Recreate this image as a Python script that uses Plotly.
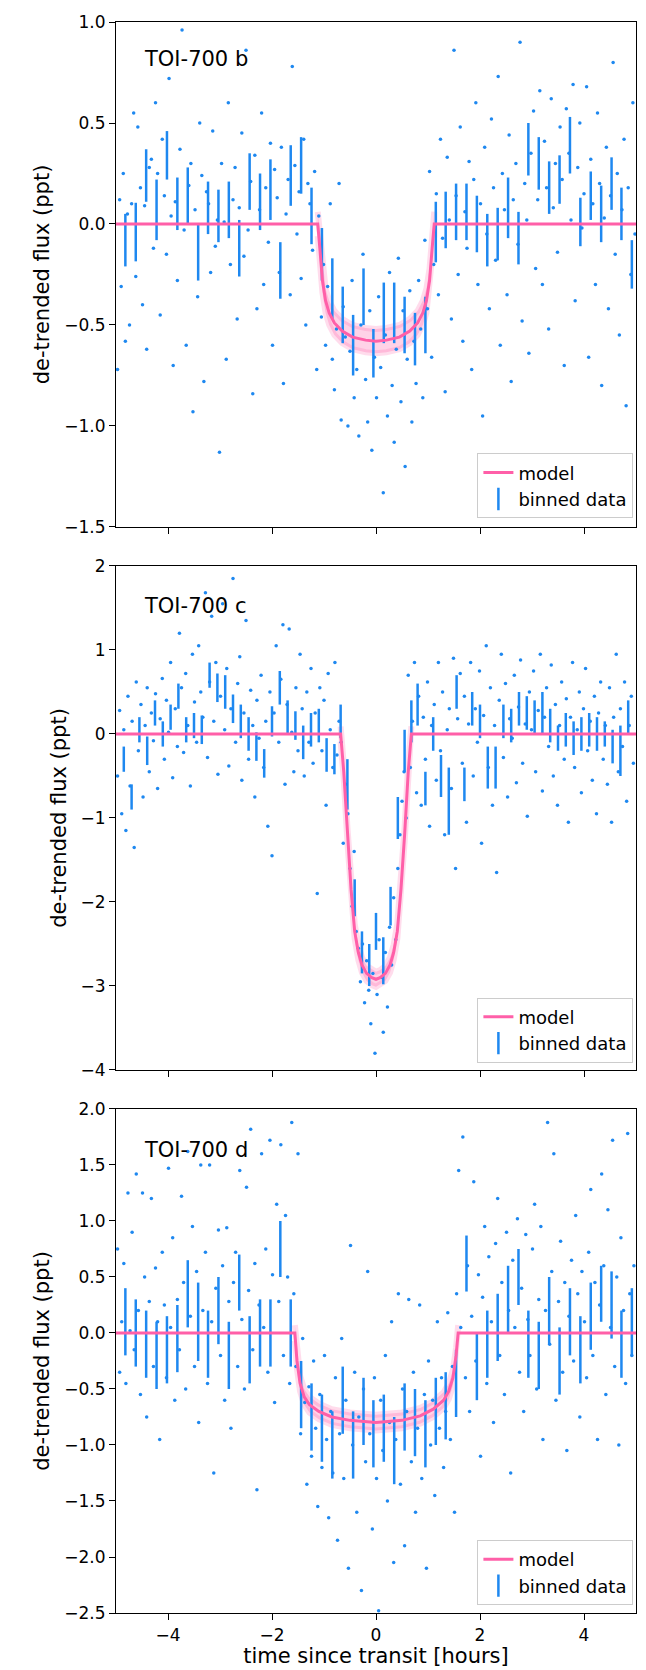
"""
TOI-700 b, c, d transit light curves (three stacked panels)
"""
import plotly.graph_objects as go

# ---- data ----
panel_names = ["TOI-700 b", "TOI-700 c", "TOI-700 d"]

# raw points (hours, ppt)
b_points = [(-4.97,-0.72),(-4.93,0.12),(-4.9,-0.31),(-4.86,0.25),(-4.82,-0.58),(-4.78,0.05),(-4.74,-0.5),(-4.7,0.1),
    (-4.66,0.55),(-4.62,-0.26),(-4.58,0.48),(-4.53,0.18),(-4.49,-0.4),(-4.45,0.09),(-4.41,-0.62),(-4.36,0.28),
    (-4.32,0.32),(-4.28,-0.12),(-4.24,0.6),(-4.2,0.25),(-4.15,-0.45),(-4.11,0.42),(-4.07,0.14),(-4.03,-0.15),
    (-3.98,0.72),(-3.94,0.04),(-3.9,-0.7),(-3.86,0.11),(-3.82,-0.28),(-3.77,0.37),(-3.73,0.96),(-3.69,-0.03),
    (-3.65,-0.6),(-3.6,0.19),(-3.56,0.3),(-3.52,-0.93),(-3.48,0.07),(-3.43,-0.36),(-3.39,0.5),(-3.35,0.24),
    (-3.31,-0.78),(-3.26,0.16),(-3.22,0.1),(-3.18,-0.24),(-3.14,0.46),(-3.09,-0.11),(-3.05,0.02),(-3.01,-1.13),
    (-2.97,0.3),(-2.92,0.01),(-2.88,-0.67),(-2.84,0.6),(-2.8,-0.2),(-2.75,0.12),(-2.71,0.28),(-2.67,-0.47),
    (-2.63,0.08),(-2.58,0.45),(-2.54,-0.16),(-2.5,0.86),(-2.46,-0.03),(-2.41,0.21),(-2.37,-0.84),(-2.33,0.34),
    (-2.29,-0.42),(-2.24,0.07),(-2.2,0.55),(-2.16,-0.3),(-2.12,0.18),(-2.07,-0.09),(-2.03,0.4),(-1.99,-0.6),
    (-1.95,0.27),(-1.9,0.13),(-1.86,-0.24),(-1.82,0.38),(-1.78,-0.79),(-1.73,0.05),(-1.69,0.22),(-1.65,-0.35),
    (-1.61,0.78),(-1.56,0.29),(-1.52,-0.05),(-1.48,0.16),(-1.44,-0.27),(-1.39,0.42),(-1.35,-0.5),(-1.31,0.2),
    (-1.27,0.1),(-1.22,-0.13),(-1.18,0.26),(-1.14,-0.72),(-1.1,0.04),(-1.05,-0.46),(-1.01,-0.2),(-0.97,-0.6),
    (-0.93,-0.31),(-0.88,0.1),(-0.84,-0.67),(-0.8,-0.82),(-0.76,-0.52),(-0.71,0.2),(-0.67,-0.97),(-0.63,-0.41),
    (-0.59,-0.56),(-0.54,-1.0),(-0.5,-0.63),(-0.46,-0.28),(-0.42,-0.86),(-0.37,-0.72),(-0.33,-1.05),(-0.29,-0.5),
    (-0.25,-0.15),(-0.2,-0.77),(-0.16,-0.98),(-0.12,-0.43),(-0.08,-1.12),(-0.03,-0.66),(0.01,-0.86),(0.05,-0.36),
    (0.09,-0.71),(0.14,-1.33),(0.18,-0.55),(0.22,-0.95),(0.26,-0.24),(0.31,-0.8),(0.35,-1.08),(0.39,-0.62),
    (0.43,-0.17),(0.48,-0.88),(0.52,-0.43),(0.56,-1.2),(0.6,-0.67),(0.65,-0.33),(0.69,-0.98),(0.73,-0.58),
    (0.77,-0.79),(0.82,-0.28),(0.86,-0.52),(0.9,-0.86),(0.94,-0.08),(0.99,-0.42),(1.03,0.26),(1.07,-0.66),
    (1.11,-0.2),(1.16,0.15),(1.2,-0.35),(1.24,0.42),(1.28,-0.07),(1.33,-0.83),(1.37,0.33),(1.41,0.02),
    (1.45,-0.47),(1.5,0.86),(1.54,0.14),(1.58,-0.25),(1.62,0.48),(1.67,-0.58),(1.71,0.06),(1.75,-0.12),
    (1.79,0.31),(1.84,-0.72),(1.88,0.22),(1.92,0.6),(1.96,-0.3),(2.01,0.1),(2.05,-0.95),(2.09,0.38),
    (2.13,-0.05),(2.18,-0.42),(2.22,0.52),(2.26,0.18),(2.3,-0.18),(2.35,0.73),(2.39,-0.6),(2.43,0.25),
    (2.47,0.07),(2.52,-0.35),(2.56,0.44),(2.6,-0.78),(2.64,0.12),(2.69,0.3),(2.73,-0.1),(2.77,0.9),
    (2.81,-0.48),(2.86,0.2),(2.9,0.02),(2.94,-0.64),(2.98,0.35),(3.03,0.56),(3.07,-0.22),(3.11,0.12),
    (3.15,0.66),(3.2,-0.3),(3.24,0.41),(3.28,0.18),(3.32,-0.52),(3.37,0.62),(3.41,0.08),(3.45,0.3),
    (3.49,-0.14),(3.54,0.48),(3.58,0.22),(3.62,-0.7),(3.66,0.57),(3.71,0.35),(3.75,0.02),(3.79,0.69),
    (3.83,-0.38),(3.88,0.28),(3.92,0.5),(3.96,-0.02),(4.0,0.15),(4.05,0.68),(4.09,-0.66),(4.13,0.32),
    (4.17,0.1),(4.22,-0.3),(4.26,0.55),(4.3,0.2),(4.34,-0.8),(4.39,0.03),(4.43,0.38),(4.47,-0.42),
    (4.51,0.14),(4.56,0.8),(4.6,-0.15),(4.64,0.25),(4.68,-0.55),(4.73,0.07),(4.77,0.42),(4.81,-0.9),
    (4.85,0.18),(4.9,-0.25),(4.94,0.6),(4.98,-0.05)]

c_points = [(-4.97,-0.5),(-4.93,0.28),(-4.89,-0.95),(-4.85,0.05),(-4.81,-1.15),(-4.77,0.45),(-4.73,-0.62),(-4.69,0.15),
    (-4.65,-1.35),(-4.61,0.62),(-4.57,-0.2),(-4.52,0.35),(-4.48,-0.75),(-4.44,0.1),(-4.4,0.55),(-4.36,-0.45),
    (-4.32,0.25),(-4.28,-0.08),(-4.24,0.48),(-4.2,-0.65),(-4.15,0.18),(-4.11,0.66),(-4.07,-0.3),(-4.03,0.4),
    (-3.99,0.02),(-3.95,0.85),(-3.91,-0.52),(-3.86,0.3),(-3.82,-0.15),(-3.78,1.2),(-3.74,0.55),(-3.7,-0.22),
    (-3.66,0.72),(-3.62,0.1),(-3.57,-0.62),(-3.53,0.95),(-3.49,0.38),(-3.45,-0.1),(-3.41,1.05),(-3.37,0.5),
    (-3.33,0.2),(-3.28,1.68),(-3.24,-0.28),(-3.2,0.62),(-3.16,1.4),(-3.12,0.15),(-3.08,0.85),(-3.04,-0.48),
    (-2.99,0.45),(-2.95,1.55),(-2.91,0.05),(-2.87,0.78),(-2.83,-0.38),(-2.79,0.3),(-2.75,1.85),(-2.7,-0.1),
    (-2.66,0.6),(-2.62,0.92),(-2.58,-0.55),(-2.54,0.25),(-2.5,1.35),(-2.45,-0.3),(-2.41,0.52),(-2.37,0.1),
    (-2.33,-0.75),(-2.29,0.4),(-2.25,-0.05),(-2.21,0.7),(-2.16,-0.4),(-2.12,0.15),(-2.08,-1.1),(-2.04,0.5),
    (-2.0,-1.45),(-1.96,0.25),(-1.92,1.05),(-1.87,-0.1),(-1.83,0.65),(-1.79,1.3),(-1.75,-0.6),(-1.71,0.35),
    (-1.67,1.25),(-1.62,0.02),(-1.58,-0.45),(-1.54,0.55),(-1.5,-0.2),(-1.46,0.95),(-1.42,0.3),(-1.38,-0.5),
    (-1.33,0.5),(-1.29,-0.1),(-1.25,0.78),(-1.21,-0.35),(-1.17,0.25),(-1.13,-1.9),(-1.08,0.55),(-1.04,-0.2),
    (-1.0,0.4),(-0.96,-0.85),(-0.92,0.72),(-0.88,0.05),(-0.83,-0.4),(-0.79,0.85),(-0.75,-0.25),(-0.71,0.15),
    (-0.67,-0.1),(-0.63,-1.3),(-0.58,-0.6),(-0.54,-0.95),(-0.5,-1.6),(-0.46,-2.05),(-0.42,-1.4),(-0.38,-2.35),
    (-0.34,-2.55),(-0.3,-2.95),(-0.26,-2.5),(-0.22,-3.2),(-0.18,-2.7),(-0.14,-3.05),(-0.1,-3.45),(-0.06,-2.85),
    (-0.02,-3.8),(0.02,-3.1),(0.06,-2.45),(0.1,-2.9),(0.14,-3.55),(0.18,-2.6),(0.22,-3.25),(0.26,-2.3),
    (0.3,-2.75),(0.34,-1.95),(0.38,-2.45),(0.42,-1.6),(0.46,-1.2),(0.5,-0.8),(0.54,-0.45),(0.58,-1.0),
    (0.62,0.7),(0.66,-0.4),(0.7,0.15),(0.74,0.85),(0.78,-0.7),(0.82,0.45),(0.87,-0.85),(0.91,0.2),
    (0.95,-0.3),(0.99,0.62),(1.03,-1.1),(1.07,0.1),(1.12,0.35),(1.16,-0.55),(1.2,0.85),(1.24,-0.2),
    (1.28,0.5),(1.32,-1.2),(1.37,0.05),(1.41,0.3),(1.45,-0.65),(1.49,0.9),(1.53,-1.6),(1.57,0.18),
    (1.62,0.72),(1.66,-0.35),(1.7,0.45),(1.74,-1.05),(1.78,0.12),(1.82,0.85),(1.87,-0.5),(1.91,0.3),
    (1.95,-0.1),(1.99,0.75),(2.03,-1.3),(2.07,0.22),(2.12,1.05),(2.16,-0.4),(2.2,0.55),(2.24,-0.85),
    (2.28,0.1),(2.32,-1.65),(2.37,0.4),(2.41,0.95),(2.45,-0.28),(2.49,0.6),(2.53,-0.75),(2.57,0.18),
    (2.62,-0.05),(2.66,0.7),(2.7,-0.58),(2.74,0.32),(2.78,0.88),(2.82,-0.35),(2.87,0.12),(2.91,-0.98),
    (2.95,0.5),(2.99,0.05),(3.03,0.75),(3.07,-0.45),(3.12,0.28),(3.16,0.95),(3.2,-0.68),(3.24,0.2),
    (3.28,0.55),(3.32,-0.15),(3.37,0.82),(3.41,-0.5),(3.45,0.35),(3.49,-0.85),(3.53,0.1),(3.57,0.62),
    (3.62,-0.3),(3.66,0.42),(3.7,-1.05),(3.74,0.2),(3.78,0.85),(3.82,-0.4),(3.87,0.05),(3.91,0.5),
    (3.95,-0.7),(3.99,0.3),(4.03,0.78),(4.07,-0.2),(4.12,0.15),(4.16,-0.55),(4.2,0.45),(4.24,-0.95),
    (4.28,0.25),(4.32,0.62),(4.37,-0.3),(4.41,0.1),(4.45,-0.6),(4.49,0.55),(4.53,-1.05),(4.57,0.2),
    (4.62,0.95),(4.66,-0.45),(4.7,0.3),(4.74,-0.15),(4.78,0.62),(4.82,-0.8),(4.87,0.1),(4.91,0.45),(4.95,-0.35)]

d_points = [(-4.97,0.75),(-4.93,-0.35),(-4.89,0.1),(-4.85,0.62),(-4.81,-0.45),(-4.77,1.25),(-4.73,0.02),(-4.69,0.9),
    (-4.65,-0.15),(-4.61,1.42),(-4.57,0.2),(-4.53,-0.55),(-4.49,1.25),(-4.45,0.5),(-4.41,-0.75),(-4.36,0.28),
    (-4.32,1.2),(-4.28,-0.3),(-4.24,0.58),(-4.2,0.1),(-4.16,-0.95),(-4.11,0.72),(-4.07,0.25),(-4.03,-0.4),
    (-3.99,1.47),(-3.95,0.05),(-3.91,0.85),(-3.87,-0.6),(-3.82,0.3),(-3.78,-0.15),(-3.74,1.22),(-3.7,0.45),
    (-3.66,-0.5),(-3.62,1.62),(-3.57,0.15),(-3.53,0.95),(-3.49,-0.3),(-3.45,0.55),(-3.41,-0.8),(-3.37,1.5),
    (-3.33,0.2),(-3.28,0.72),(-3.24,-0.45),(-3.2,1.5),(-3.16,0.1),(-3.12,-1.25),(-3.08,0.4),(-3.03,0.92),
    (-2.99,-0.2),(-2.95,0.6),(-2.91,-0.6),(-2.87,0.94),(-2.83,0.28),(-2.79,-0.85),(-2.74,0.45),(-2.7,0.72),
    (-2.66,-0.3),(-2.62,1.45),(-2.58,0.12),(-2.53,-0.5),(-2.49,1.3),(-2.45,0.38),(-2.41,1.82),(-2.37,-0.15),
    (-2.33,0.62),(-2.29,-1.4),(-2.25,0.25),(-2.2,1.6),(-2.16,0.05),(-2.12,0.75),(-2.08,-0.35),(-2.04,1.72),
    (-1.99,0.52),(-1.95,-0.62),(-1.91,1.15),(-1.87,0.28),(-1.83,1.68),(-1.78,-0.2),(-1.74,1.05),(-1.7,0.5),
    (-1.66,-0.45),(-1.62,1.88),(-1.58,0.35),(-1.54,-0.3),(-1.5,1.6),(-1.45,-0.9),(-1.41,-0.05),(-1.37,-0.62),
    (-1.33,-1.35),(-1.29,-0.48),(-1.24,-1.1),(-1.2,-0.25),(-1.16,-0.85),(-1.12,-1.55),(-1.08,-0.55),(-1.04,-1.2),
    (-0.99,-0.2),(-0.95,-0.95),(-0.91,-1.65),(-0.87,-0.7),(-0.83,-1.25),(-0.78,-0.4),(-0.74,-1.85),(-0.7,-0.9),
    (-0.66,-0.05),(-0.62,-1.3),(-0.58,-0.6),(-0.53,-2.1),(-0.49,0.78),(-0.45,-1.0),(-0.41,-0.35),(-0.37,-1.6),
    (-0.33,-0.75),(-0.28,-2.3),(-0.24,-0.5),(-0.2,-1.15),(-0.16,0.55),(-0.12,-0.9),(-0.07,-1.75),(-0.03,-0.4),
    (0.01,-1.3),(0.05,-2.48),(0.09,-0.6),(0.13,-1.05),(0.18,-0.2),(0.22,-1.5),(0.26,-0.8),(0.3,0.1),
    (0.34,-2.05),(0.38,-0.95),(0.43,0.35),(0.47,-1.35),(0.51,-0.5),(0.55,-1.9),(0.59,-0.7),(0.63,0.3),
    (0.68,-1.15),(0.72,-0.35),(0.76,-1.6),(0.8,-0.85),(0.84,0.25),(0.88,-1.3),(0.93,-0.55),(0.97,-2.1),
    (1.01,-0.25),(1.05,-1.0),(1.09,-0.6),(1.13,-1.45),(1.18,0.1),(1.22,-0.85),(1.26,-0.4),(1.3,-1.2),
    (1.34,-0.7),(1.38,0.18),(1.43,-0.95),(1.47,-0.3),(1.51,-1.6),(1.55,0.35),(1.59,1.45),(1.63,0.05),
    (1.67,1.75),(1.72,-0.4),(1.76,0.6),(1.8,-0.7),(1.84,0.15),(1.88,1.35),(1.92,-0.25),(1.97,0.52),
    (2.01,-1.1),(2.05,0.32),(2.09,0.95),(2.13,-0.45),(2.17,0.68),(2.22,0.1),(2.26,-0.8),(2.3,0.8),
    (2.34,1.2),(2.38,-0.2),(2.42,0.45),(2.47,-0.55),(2.51,0.9),(2.55,0.2),(2.59,-1.25),(2.63,0.65),
    (2.67,0.05),(2.72,1.02),(2.76,-0.35),(2.8,0.4),(2.84,-0.7),(2.88,0.88),(2.92,0.12),(2.96,-0.2),
    (3.01,0.75),(3.05,1.15),(3.09,-0.5),(3.13,0.3),(3.17,0.95),(3.21,-0.95),(3.26,0.2),(3.3,1.88),
    (3.34,-0.1),(3.38,0.55),(3.42,1.6),(3.46,-0.6),(3.51,0.28),(3.55,0.82),(3.59,-0.35),(3.63,0.45),
    (3.67,-1.05),(3.71,0.15),(3.76,0.65),(3.8,-0.25),(3.84,1.05),(3.88,0.35),(3.92,-0.75),(3.96,0.55),
    (4.01,0.1),(4.05,-0.4),(4.09,0.72),(4.13,1.28),(4.17,-0.2),(4.21,0.45),(4.26,-0.95),(4.3,0.25),
    (4.34,1.42),(4.38,0.6),(4.42,-0.55),(4.46,1.1),(4.51,0.05),(4.55,1.72),(4.59,-0.3),(4.63,0.5),
    (4.67,-1.0),(4.71,0.85),(4.76,0.2),(4.8,-0.45),(4.84,1.78),(4.88,0.35),(4.92,-0.2),(4.96,0.6)]

# binned data: time (hours), value (ppt), half error (ppt)
b_bin_t = [-4.82,-4.62,-4.42,-4.22,-4.02,-3.82,-3.62,-3.42,-3.23,-3.03,-2.83,-2.63,-2.43,-2.23,-2.03,-1.84,
           -1.64,-1.44,-1.24,-1.04,-0.84,-0.64,-0.44,-0.24,-0.05,0.15,0.35,0.55,0.75,0.95,1.15,1.34,
           1.54,1.74,1.94,2.14,2.34,2.54,2.74,2.93,3.13,3.33,3.53,3.73,3.93,4.13,4.33,4.53,4.72,4.92]
b_bin_f = [-0.08,-0.04,0.24,0.07,0.34,0.10,0.14,-0.14,0.08,0.04,0.07,-0.12,0.21,0.11,0.17,-0.23,
           0.24,0.29,0.04,-0.15,-0.32,-0.45,-0.60,-0.36,-0.64,-0.44,-0.44,-0.50,-0.57,-0.50,-0.04,0.02,
           0.06,0.06,0.00,-0.08,-0.05,0.08,-0.07,0.37,0.30,0.18,0.22,0.39,0.01,0.14,0.05,0.20,0.05,-0.20]
b_bin_e = [0.13,0.145,0.13,0.15,0.12,0.13,0.14,0.14,0.13,0.13,0.14,0.14,0.14,0.14,0.15,0.14,
           0.15,0.14,0.14,0.13,0.15,0.14,0.15,0.14,0.12,0.15,0.15,0.14,0.13,0.14,0.15,0.14,
           0.14,0.14,0.14,0.13,0.13,0.15,0.13,0.13,0.13,0.13,0.12,0.14,0.12,0.12,0.14,0.13,0.13,0.12]

c_bin_t = [-4.85,-4.7,-4.55,-4.4,-4.25,-4.1,-3.95,-3.8,-3.65,-3.5,-3.35,-3.2,-3.05,-2.9,-2.75,-2.6,
           -2.45,-2.3,-2.15,-2.0,-1.85,-1.7,-1.55,-1.4,-1.25,-1.1,-0.95,-0.8,-0.68,-0.55,-0.41,-0.27,
           -0.13,0.0,0.14,0.28,0.42,0.55,0.68,0.8,0.95,1.1,1.25,1.4,1.55,1.7,1.85,2.0,2.15,2.3,
           2.45,2.6,2.75,2.9,3.05,3.2,3.35,3.5,3.65,3.8,3.95,4.1,4.25,4.4,4.55,4.7,4.85]
c_bin_f = [-0.3,-0.75,0.05,-0.2,0.25,0.0,0.2,0.45,0.05,0.1,0.05,0.7,0.55,0.5,0.3,0.15,
           0.0,-0.15,-0.35,0.15,0.55,0.2,0.1,-0.1,0.05,0.1,-0.25,-0.3,0.15,-0.6,-1.95,-2.6,
           -2.75,-2.35,-2.7,-2.05,-1.0,-0.2,0.15,0.35,-0.65,0.0,-0.5,-0.8,0.5,-0.6,0.3,0.15,-0.4,-0.4,
           0.15,0.1,0.3,0.25,0.2,0.25,0.1,-0.05,0.05,-0.05,0.0,0.05,0.0,0.0,-0.15,-0.2,0.2]
c_bin_e = [0.15,0.15,0.15,0.17,0.15,0.15,0.15,0.15,0.15,0.15,0.17,0.15,0.17,0.2,0.17,0.2,
           0.2,0.17,0.17,0.18,0.2,0.2,0.17,0.2,0.2,0.2,0.2,0.18,0.2,0.3,0.22,0.25,
           0.25,0.22,0.28,0.23,0.25,0.25,0.25,0.25,0.2,0.2,0.25,0.4,0.2,0.2,0.2,0.2,0.25,0.25,
           0.2,0.2,0.2,0.2,0.2,0.25,0.2,0.15,0.2,0.2,0.2,0.2,0.2,0.15,0.2,0.3,0.2]

d_bin_t = b_bin_t
d_bin_f = [0.1,0.0,-0.1,-0.2,-0.15,-0.05,0.35,0.1,-0.1,0.2,-0.2,0.45,-0.15,0.0,0.0,0.75,
           0.0,-0.55,-0.75,-0.85,-1.0,-0.6,-1.0,-0.7,-0.9,-0.85,-1.05,-0.75,-0.8,-0.9,-0.7,-0.65,
           -0.45,0.62,-0.3,-0.1,0.05,0.3,0.5,-0.1,-0.2,0.2,-0.25,0.1,-0.15,0.15,0.35,0.25,-0.1,0.1]
d_bin_e = [0.3,0.3,0.3,0.3,0.3,0.3,0.3,0.35,0.3,0.3,0.3,0.25,0.3,0.3,0.3,0.25,
           0.3,0.3,0.3,0.3,0.3,0.3,0.3,0.3,0.3,0.3,0.3,0.3,0.3,0.3,0.3,0.3,
           0.3,0.25,0.3,0.3,0.3,0.3,0.25,0.3,0.3,0.3,0.3,0.3,0.3,0.3,0.25,0.3,0.3,0.3]

# transit models (hours, ppt) and uncertainty band half-width
b_model_t = [-5,-1.12,-1.08,-1.03,-0.97,-0.9,-0.8,-0.65,-0.45,-0.2,0,0.2,0.45,0.65,0.8,0.9,0.97,1.03,1.08,1.12,5]
b_model_f = [0,0,-0.12,-0.28,-0.38,-0.44,-0.49,-0.53,-0.56,-0.575,-0.58,-0.575,-0.56,-0.53,-0.49,-0.44,-0.38,-0.28,-0.12,0,0]
c_model_t = [-5,-0.68,-0.62,-0.55,-0.48,-0.41,-0.34,-0.27,-0.18,-0.08,0,0.08,0.18,0.27,0.34,0.41,0.48,0.55,0.62,0.68,5]
c_model_f = [0,0,-0.45,-1.2,-1.85,-2.35,-2.6,-2.75,-2.85,-2.9,-2.92,-2.9,-2.85,-2.75,-2.6,-2.35,-1.85,-1.2,-0.45,0,0]
d_model_t = [-5,-1.56,-1.52,-1.46,-1.38,-1.28,-1.1,-0.85,-0.5,0,0.5,0.85,1.1,1.3,1.4,1.48,1.54,1.58,5]
d_model_f = [0,0,-0.25,-0.45,-0.57,-0.64,-0.7,-0.75,-0.78,-0.8,-0.78,-0.74,-0.68,-0.6,-0.52,-0.4,-0.2,0,0]
band = [0.06, 0.09, 0.07]

y_ranges = [[-1.5, 1.0], [-4, 2], [-2.5, 2.0]]
y_ticks = [[-1.5,-1.0,-0.5,0.0,0.5,1.0], [-4,-3,-2,-1,0,1,2], [-2.5,-2.0,-1.5,-1.0,-0.5,0.0,0.5,1.0,1.5,2.0]]
y_ticktext = [["−1.5","−1.0","−0.5","0.0","0.5","1.0"], ["−4","−3","−2","−1","0","1","2"],
              ["−2.5","−2.0","−1.5","−1.0","−0.5","0.0","0.5","1.0","1.5","2.0"]]

BLUE = '#1e88f0'
PINK = '#ff5fa8'
FONT = "DejaVu Sans"

domains = [[0.6826, 1.0], [0.3413, 0.6581], [0.0, 0.3168]]
label_y = [0.977, 0.633, 0.291]
legend_y = [0.688, 0.346, 0.005]

fig = go.Figure()
panels = [
    (b_points, b_bin_t, b_bin_f, b_bin_e, b_model_t, b_model_f),
    (c_points, c_bin_t, c_bin_f, c_bin_e, c_model_t, c_model_f),
    (d_points, d_bin_t, d_bin_f, d_bin_e, d_model_t, d_model_f),
]

for i, (pts, bt, bf, be, mt, mf) in enumerate(panels):
    ax = '' if i == 0 else str(i + 1)
    leg = 'legend' if i == 0 else 'legend' + str(i + 1)
    xa, ya = 'x' + ax, 'y' + ax
    # uncertainty band, only inside the transit
    bt_in = mt[1:-1]
    bf_in = mf[1:-1]
    fig.add_trace(go.Scatter(x=bt_in + bt_in[::-1],
                             y=[v + band[i] for v in bf_in] + [v - band[i] for v in bf_in[::-1]],
                             fill='toself', fillcolor='rgba(255,95,168,0.28)',
                             line=dict(width=6, color='rgba(255,95,168,0.22)'),
                             hoverinfo='skip', showlegend=False, xaxis=xa, yaxis=ya))
    fig.add_trace(go.Scatter(x=[p[0] for p in pts], y=[p[1] for p in pts], mode='markers',
                             marker=dict(color=BLUE, size=3.5), showlegend=False, xaxis=xa, yaxis=ya))
    fig.add_trace(go.Scatter(x=bt, y=bf, mode='markers', marker=dict(color=BLUE, size=1),
                             error_y=dict(type='data', array=be, width=0, thickness=2.5, color=BLUE),
                             showlegend=False, xaxis=xa, yaxis=ya))
    fig.add_trace(go.Scatter(x=mt, y=mf, mode='lines', line=dict(color=PINK, width=3),
                             name='model', legend=leg, xaxis=xa, yaxis=ya))
    # legend entry for binned data
    fig.add_trace(go.Scatter(x=[None], y=[None], mode='markers', name='binned data', legend=leg,
                             marker=dict(symbol='line-ns-open', size=20, color=BLUE,
                                         line=dict(color=BLUE, width=2.5)),
                             xaxis=xa, yaxis=ya))

    axis_style = dict(showline=True, linecolor='black', linewidth=1.2, mirror=True, ticks='outside',
                      ticklen=6, tickcolor='black', showgrid=False, zeroline=False,
                      tickfont=dict(size=17, color='black', family=FONT))
    fig.update_layout(**{
        'xaxis' + ax: dict(axis_style, range=[-5, 5], tickvals=[-4, -2, 0, 2, 4],
                           ticktext=["−4", "−2", "0", "2", "4"], anchor='y' + ax,
                           showticklabels=(i == 2), matches=None if i == 0 else 'x'),
        'yaxis' + ax: dict(axis_style, range=y_ranges[i], tickvals=y_ticks[i], ticktext=y_ticktext[i],
                           domain=domains[i], anchor='x' + ax,
                           title=dict(text='de-trended flux (ppt)', font=dict(size=21, family=FONT, color='black'),
                                      standoff=8)),
        leg: dict(x=0.995, y=legend_y[i], xanchor='right', yanchor='bottom', bgcolor='rgba(255,255,255,0.85)',
                  bordercolor='#cccccc', borderwidth=1, font=dict(size=18, family=FONT, color='black'),
                  tracegroupgap=2),
    })
    fig.add_annotation(text=panel_names[i], xref='paper', yref='paper', x=0.05, y=label_y[i],
                       xanchor='left', yanchor='middle', showarrow=False,
                       font=dict(size=21, family=FONT, color='black'))

fig.update_layout(
    width=646, height=1670, template='none', plot_bgcolor='white', paper_bgcolor='white',
    margin=dict(l=108, r=18, t=14, b=65),
    xaxis3_title=dict(text='time since transit [hours]', font=dict(size=21, family=FONT, color='black'),
                      standoff=4),
)

fig.write_html("out.html")
